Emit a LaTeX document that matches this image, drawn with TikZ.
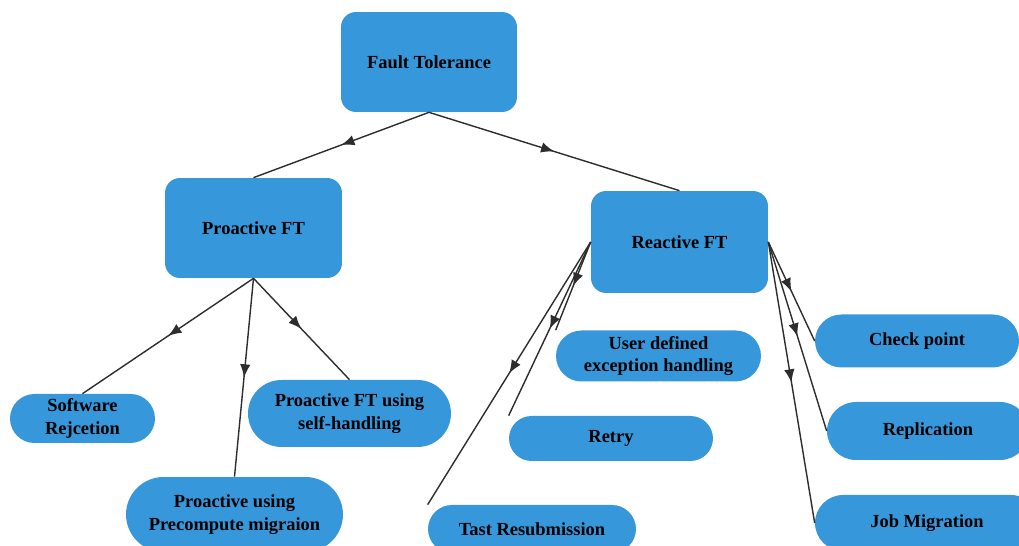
\documentclass[tikz,border=0pt]{standalone}
\usepackage{fontspec}
\setmainfont{Liberation Serif}
\usetikzlibrary{arrows.meta,decorations.markings}
\definecolor{ftblue}{RGB}{55,151,219}
\definecolor{ftline}{RGB}{45,45,45}
\tikzset{
  box/.style={fill=ftblue, rounded corners=0.3cm, align=center, inner sep=0pt,
    font=\bfseries\fontsize{10.5}{13}\selectfont},
  pill/.style={box, rounded corners=#1},
  link/.style={draw=ftline, line width=0.8pt, postaction={decorate},
    decoration={markings, mark=at position 0.5 with {\arrow{Latex[length=7.5pt,width=6pt]}}}},
}
\begin{document}
\begin{tikzpicture}[x=0.02cm,y=-0.02cm]
\useasboundingbox (0,0) rectangle (1019,546);
% top levels
\node[box, minimum width=3.52cm, minimum height=2cm] (ft) at (429,62) {Fault Tolerance};
\node[box, minimum width=3.54cm, minimum height=2cm] (pro) at (253.5,228) {Proactive FT};
\node[box, minimum width=3.54cm, minimum height=2.04cm] (rea) at (679.5,242) {Reactive FT};
% proactive leaves
\node[pill=0.49cm, minimum width=2.9cm, minimum height=0.98cm] (soft) at (82.5,418.5) {Software\\Rejcetion};
\node[pill=0.67cm, minimum width=4.06cm, minimum height=1.34cm] (self) at (349.5,413.5) {Proactive FT using\\self-handling};
\node[pill=0.75cm, minimum width=4.34cm, minimum height=1.5cm] (pre) at (234.5,514.5) {Proactive using\\Precompute migraion};
% reactive leaves
\node[pill=0.51cm, minimum width=4.1cm, minimum height=1.02cm] (user) at (658.5,356) {User defined\\exception handling};
\node[pill=0.45cm, minimum width=4.08cm, minimum height=0.9cm] (retry) at (611,438.5) {Retry};
\node[pill=0.48cm, minimum width=4.16cm, minimum height=0.96cm] (tast) at (532,529) {Tast Resubmission};
\node[pill=0.53cm, minimum width=4.08cm, minimum height=1.06cm] (check) at (917,341) {Check point};
\node[pill=0.58cm, minimum width=4.04cm, minimum height=1.16cm] (rep) at (928,431) {Replication};
\node[pill=0.56cm, minimum width=4.48cm, minimum height=1.12cm] (job) at (927,523) {Job Migration};
% connectors
\draw[link] (ft.south) -- (pro.north);
\draw[link] (ft.south) -- (rea.north);
\draw[link] (pro.south) -- (soft.north);
\draw[link] (pro.south) -- (pre.north);
\draw[link] (pro.south) -- (self.north);
\draw[link] (rea.west) -- (user.north west);
\draw[link] (rea.west) -- (retry.north west);
\draw[link] (rea.west) -- (tast.north west);
\draw[link] (rea.east) -- (check.west);
\draw[link] (rea.east) -- (rep.west);
\draw[link] (rea.east) -- (job.west);
\end{tikzpicture}
\end{document}
